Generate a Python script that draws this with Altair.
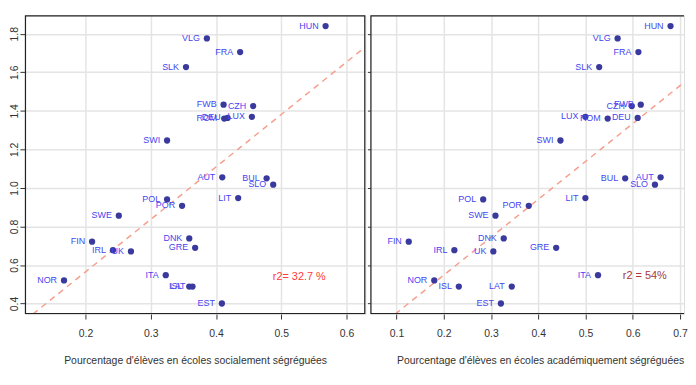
import altair as alt
import pandas as pd

countries = ["HUN", "VLG", "FRA", "SLK", "FWB", "CZH", "LUX", "ROM", "DEU", "SWI",
             "AUT", "BUL", "SLO", "LIT", "POL", "POR", "SWE", "FIN", "DNK", "GRE",
             "IRL", "UK", "NOR", "ITA", "ISL", "LAT", "EST"]
y_vals = [1.840, 1.776, 1.705, 1.627, 1.432, 1.425, 1.369, 1.360, 1.363, 1.246,
          1.055, 1.050, 1.017, 0.947, 0.940, 0.907, 0.856, 0.721, 0.738, 0.689,
          0.677, 0.670, 0.520, 0.547, 0.488, 0.488, 0.400]
x_social = [0.568, 0.386, 0.437, 0.354, 0.4116, 0.457, 0.455, 0.4126, 0.4177, 0.325,
            0.4096, 0.4776, 0.4877, 0.434, 0.325, 0.348, 0.251, 0.210, 0.359, 0.368,
            0.242, 0.2696, 0.167, 0.323, 0.359, 0.364, 0.409]
x_academic = [0.680, 0.568, 0.612, 0.529, 0.617, 0.598, 0.4998, 0.547, 0.6105, 0.447,
              0.659, 0.584, 0.647, 0.4998, 0.2835, 0.380, 0.3095, 0.126, 0.327, 0.438,
              0.2225, 0.305, 0.180, 0.5265, 0.232, 0.344, 0.321]

line_social_x = [0.1193, 0.629]
line_social_y = [0.345, 1.732]
line_acad_x = [0.0973, 0.7653]
line_acad_y = [0.345, 1.659]

r2_text = ["r2= 32.7 %", "r2 = 54%"]
r2_x = [0.487, 0.579]
r2_y = [0.539, 0.542]
r2_colors = ["#ff3b3b", "#a53838"]

x_titles = ["Pourcentage d'élèves en écoles socialement ségréguées",
            "Pourcentage d'élèves en écoles académiquement ségréguées"]
x_ticks_social = [0.2, 0.3, 0.4, 0.5, 0.6]
x_ticks_acad = [0.1, 0.2, 0.3, 0.4, 0.5, 0.6, 0.7]
y_ticks = [0.4, 0.6, 0.8, 1.0, 1.2, 1.4, 1.6, 1.8]

FONT = "Liberation Sans"
PT_COLOR = "#3a3a9e"
LBL_COLOR = "#4646f0"
LINE_COLOR = "#f5a08e"
H = 301
W_LEFT = 343
W_RIGHT = 316
PX_PER_UNIT = 476.0  # right-panel scale (pixels per 1.0 on x)


def panel(xs, lx, ly, r2t, r2xx, r2yy, r2c, xdomain, xticks, xtitle, left, w, title_x):
    df = pd.DataFrame({"country": countries, "x": xs, "y": y_vals})
    ldf = pd.DataFrame({"x": lx, "y": ly})
    rdf = pd.DataFrame({"t": [r2t], "x": [r2xx], "y": [r2yy]})
    xs_ = alt.Scale(domain=xdomain, nice=False, zero=False)
    ys_ = alt.Scale(domain=[0.345, 1.896], nice=False, zero=False)
    xkw = dict(values=xticks, format=".1f", title=xtitle, tickSize=5,
               labelPadding=10, titlePadding=16, domain=False,
               grid=True, gridColor="#e4e4e4", gridWidth=1.5,
               tickColor="#333", labelColor="#333", titleColor="#333",
               labelFontSize=10.5, titleFontSize=10.5, titleFontWeight="normal",
               labelFont=FONT, titleFont=FONT)
    if title_x is not None:
        xkw["titleX"] = title_x
        xkw["titleAlign"] = "center"
    xax = alt.Axis(**xkw)
    if left:
        yax = alt.Axis(values=y_ticks, format=".1f", title=None, tickSize=5,
                       labelPadding=0, labelAngle=270, labelAlign="center",
                       labelBaseline="bottom", domain=False,
                       grid=True, gridColor="#e4e4e4", gridWidth=1.5,
                       tickColor="#333", labelColor="#333", labelFontSize=10.5,
                       labelFont=FONT)
    else:
        yax = alt.Axis(values=y_ticks, title=None, tickSize=3, labels=False,
                       domain=False, grid=True, gridColor="#e4e4e4", gridWidth=1.5,
                       tickColor="#333")
    X = alt.X("x:Q", scale=xs_, axis=xax)
    Y = alt.Y("y:Q", scale=ys_, axis=yax)
    frame = alt.Chart(pd.DataFrame({"a": [0]})).mark_rect(
        clip=True, fill=None, stroke="#222", strokeWidth=2.4
    ).encode(x=alt.value(0), x2=alt.value(w if left else w + 30),
             y=alt.value(0), y2=alt.value(H))
    line = alt.Chart(ldf).mark_line(clip=True, color=LINE_COLOR, strokeDash=[6, 5],
                                    strokeWidth=1.5).encode(x=X, y=Y)
    pts = alt.Chart(df).mark_circle(size=40, opacity=1, color=PT_COLOR).encode(x=X, y=Y)
    lbl = alt.Chart(df).mark_text(align="right", baseline="middle", dx=-7, dy=-0.5,
                                  fontSize=9, font=FONT, color=LBL_COLOR).encode(
        x=X, y=Y, text="country:N")
    r2 = alt.Chart(rdf).mark_text(align="left", baseline="middle", fontSize=11,
                                  font=FONT, color=r2c).encode(x=X, y=Y, text="t:N")
    return alt.layer(line, pts, lbl, r2, frame).properties(width=w, height=H)


left = panel(x_social, line_social_x, line_social_y, r2_text[0], r2_x[0], r2_y[0],
             r2_colors[0], [0.107, 0.629], x_ticks_social, x_titles[0], True,
             W_LEFT, None)
right = panel(x_academic, line_acad_x, line_acad_y, r2_text[1], r2_x[1], r2_y[1],
              r2_colors[1], [0.0447, 0.0447 + W_RIGHT / PX_PER_UNIT], x_ticks_acad,
              x_titles[1], False, W_RIGHT, 171)

chart = alt.hconcat(left, right, spacing=0).properties(
    padding={"left": 1, "top": 5, "right": 0, "bottom": 5}
).configure_view(stroke=None).configure(background="white")

chart.save("out.html", embed_options={"renderer": "svg", "actions": False})
